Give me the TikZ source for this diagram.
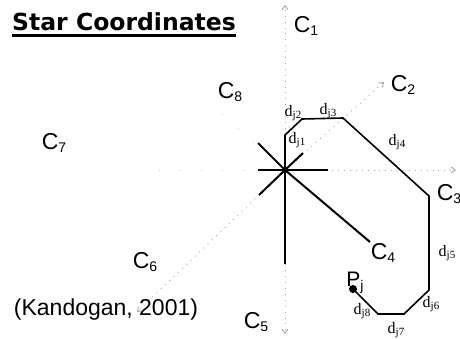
\documentclass[tikz,border=0pt]{standalone}
\usepackage{fontspec}
\setmainfont{Liberation Sans}
\newfontfamily\titlefont{DejaVu Sans}
\newfontfamily\distfont{Liberation Serif}
\usetikzlibrary{arrows.meta}

% axis name C_i and distance label d_ji
\newcommand{\clab}[1]{C\raisebox{-3pt}{\fontsize{14}{14}\selectfont #1}}
\newcommand{\dlab}[1]{d\raisebox{-2.5pt}{\fontsize{11}{11}\selectfont j#1}}

\begin{document}
\begin{tikzpicture}[
      x=1pt, y=-1pt,
      axis/.style = {gray!70, line width=0.9pt, dash pattern=on 0.9pt off 5pt, -{Straight Barb[length=4pt, width=6pt]}},
      faint/.style = {gray!40, line width=0.8pt, dash pattern=on 0.8pt off 20pt},
      arm/.style = {line width=2pt, black},
      path/.style = {line width=1.6pt, black},
      axlabel/.style = {font=\fontsize{23}{23}\selectfont, inner sep=0pt},
      dist/.style = {font=\distfont\fontsize{16}{16}\selectfont, inner sep=0pt}
    ]
    \useasboundingbox (0,0) rectangle (460,338);

    \coordinate (o) at (285,170);
    % axis tips
    \coordinate (t1) at (285,5);
    \coordinate (t2) at (384,82);
    \coordinate (t3) at (456,170);
    \coordinate (t5) at (285,334);
    \coordinate (t6) at (137,312);
    \coordinate (t7) at (140,170);
    \coordinate (t8) at (214,107);
    % star arms
    \coordinate (a1) at (285,135);
    \coordinate (a2) at (303,153);
    \coordinate (a3) at (328,170);
    \coordinate (a4) at (370,242);
    \coordinate (a5) at (285,264);
    \coordinate (a6) at (259,195);
    \coordinate (a7) at (258,170);
    \coordinate (a8) at (258,143);
    % summed vectors
    \coordinate (p1) at (285,135);
    \coordinate (p2) at (302,119);
    \coordinate (p3) at (343,118);
    \coordinate (p4) at (429,196);
    \coordinate (p5) at (429,290);
    \coordinate (p6) at (404,314);
    \coordinate (p7) at (378,314);
    \coordinate (pj) at (353,289);

    \foreach \t in {t1,t2,t3,t5,t6}
      \draw[axis] (o) -- (\t);
    \draw[faint] (o) -- (t7);
    \draw[faint] (o) -- (t8);

    \foreach \a in {a1,a2,a3,a4,a5,a6,a7,a8}
      \draw[arm] (o) -- (\a);

    \draw[path] (o) -- (p1) -- (p2) -- (p3) -- (p4) -- (p5) -- (p6) -- (p7) -- (pj);
    \fill (pj) circle (4pt);

    \node[axlabel] (c1) at (306,26) {\clab{1}};
    \node[axlabel] (c2) at (403,85) {\clab{2}};
    \node[axlabel] (c3) at (449,194) {\clab{3}};
    \node[axlabel] (c4) at (383,253) {\clab{4}};
    \node[axlabel] (c5) at (256,322) {\clab{5}};
    \node[axlabel] (c6) at (145,262) {\clab{6}};
    \node[axlabel] (c7) at (54,143) {\clab{7}};
    \node[axlabel] (c8) at (230,92) {\clab{8}};

    \node[dist] (d1) at (297,140) {\dlab{1}};
    \node[dist] (d2) at (293,113) {\dlab{2}};
    \node[dist] (d3) at (328,111) {\dlab{3}};
    \node[dist] (d4) at (397,142) {\dlab{4}};
    \node[dist] (d5) at (447,253) {\dlab{5}};
    \node[dist] (d6) at (431,304) {\dlab{6}};
    \node[dist] (d7) at (396,330) {\dlab{7}};
    \node[dist] (d8) at (362,311) {\dlab{8}};

    \node[inner sep=0pt, font=\fontsize{21}{21}\selectfont] (pjl) at (355,283)
      {P\raisebox{-4pt}{\fontsize{14}{14}\selectfont j}};

    \node[inner sep=0pt, font=\fontsize{23}{23}\selectfont] (cite) at (106,310) {(Kandogan, 2001)};

    \node[inner sep=0pt, font=\titlefont\bfseries\fontsize{23.5}{23.5}\selectfont] (title) at (124,22) {Star Coordinates};
    \draw[line width=2.8pt] ([yshift=-4.5pt]title.base west) -- ([yshift=-4.5pt]title.base east);
  \end{tikzpicture}
\end{document}
